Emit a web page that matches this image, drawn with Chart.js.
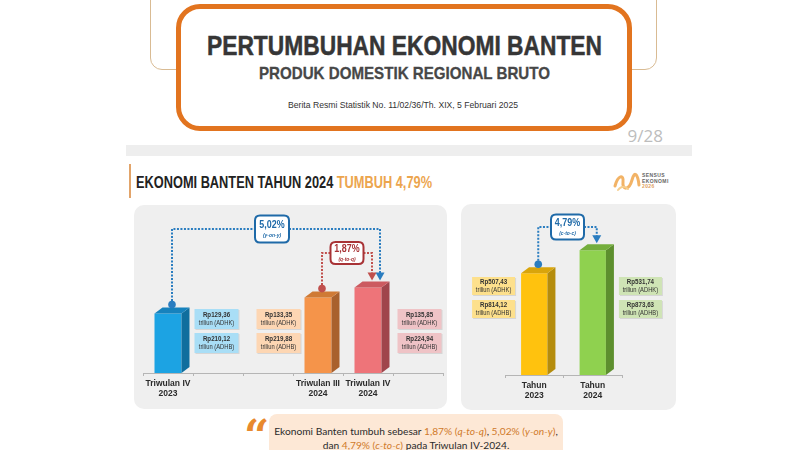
<!DOCTYPE html>
<html><head><meta charset="utf-8">
<script src="https://cdn.jsdelivr.net/npm/chart.js@4.4.1/dist/chart.umd.min.js"></script>
<style>
html,body{margin:0;padding:0;width:800px;height:450px;overflow:hidden;background:#fff;}
.a{position:absolute;white-space:nowrap;}
.ls{font-family:'Liberation Sans',Arial,sans-serif;}
</style></head><body>
<!-- top cover -->
<div class="a" style="left:150px;top:-20px;width:505px;height:88px;border:1px solid #d9bb93;border-radius:12px;"></div>
<div class="a" style="left:176px;top:4px;width:446px;height:117px;border:5px solid #e2741f;border-radius:24px;background:#fff;"></div>
<div class="a ls" data-w="395" style="left:207px;top:31px;line-height:30px;font-size:27px;font-weight:bold;color:#363636;-webkit-text-stroke:0.5px #363636;">PERTUMBUHAN EKONOMI BANTEN</div>
<div class="a ls" data-w="291" style="left:259px;top:64px;line-height:20px;font-size:17px;font-weight:bold;color:#474747;-webkit-text-stroke:0.3px #474747;">PRODUK DOMESTIK REGIONAL BRUTO</div>
<div class="a ls" data-w="230" style="left:288px;top:99px;line-height:12px;font-size:9px;color:#333;">Berita Resmi Statistik No. 11/02/36/Th. XIX, 5 Februari 2025</div>
<div class="a" style="left:600px;width:63px;top:126px;line-height:20px;text-align:right;font-family:'Open Sans',sans-serif;font-size:17px;color:#bdbdbd;">9/28</div>
<div class="a" style="left:126px;top:145px;width:566px;height:11px;background:#eeeeee;"></div>
<!-- section header -->
<div class="a" style="left:129px;top:164px;width:2px;height:34px;background:#e2a46a;"></div>
<div class="a ls" data-w="296" style="left:136px;top:173px;line-height:20px;font-size:16px;font-weight:bold;color:#222;">EKONOMI BANTEN TAHUN 2024 <span style="color:#eca54e;">TUMBUH 4,79%</span></div>
<svg class="a" style="left:613px;top:171px;" width="28" height="22" viewBox="0 0 28 22">
<path d="M2 15 C5 4,11 3,10 11 S16 20,19 9 S25 5,26 14" fill="none" stroke="#f2b366" stroke-width="3" stroke-linecap="round"/>
<path d="M5 19 C9 14,13 16,15 18" fill="none" stroke="#f6cf8f" stroke-width="2" stroke-linecap="round"/>
</svg>
<div class="a" style="left:642px;top:173px;font-family:'Liberation Sans',sans-serif;font-size:5px;line-height:5.5px;font-weight:bold;color:#666;letter-spacing:0.4px;">SENSUS<br>EKONOMI<br><span style="color:#e0a060;">2026</span></div>
<!-- panels -->
<div class="a" style="left:134px;top:205px;width:313px;height:204px;background:#efefef;border-radius:10px;"></div>
<div class="a" style="left:461px;top:204px;width:215px;height:206px;background:#efefef;border-radius:10px;"></div>
<div class="a" style="left:134px;top:204px;"><canvas id="cq" width="313" height="205"></canvas></div>
<div class="a" style="left:461px;top:204px;"><canvas id="cy" width="215" height="205"></canvas></div>
<!-- quote -->
<div class="a" style="left:269px;top:414px;width:294px;height:50px;background:#fde8d6;border-radius:8px;"></div>
<div class="a" style="left:244px;top:415px;font-family:'DejaVu Serif',serif;font-weight:bold;font-size:44px;line-height:44px;color:#e8892e;">“</div>
<div class="a" style="left:269px;width:294px;top:424px;text-align:center;font-family:Lato,sans-serif;font-size:10.2px;line-height:14px;color:#2b2b2b;">Ekonomi Banten tumbuh sebesar <span style="color:#d07a2a;">1,87% (<i>q-to-q</i>)</span>, <span style="color:#d07a2a;">5,02% (<i>y-on-y</i>)</span>,<br>dan <span style="color:#d07a2a;">4,79% (<i>c-to-c</i>)</span> pada Triwulan IV-2024.</div>
<script>
// ---------- data ----------
const quarterLabels = [['Triwulan IV','2023'], '', '', ['Triwulan III','2024'], ['Triwulan IV','2024'], ''];
const quarterADHK = [129.36, null, null, 133.35, 135.85, null];
const quarterADHB = [210.12, null, null, 219.88, 224.94, null];
const yearLabels = [['Tahun','2023'], ['Tahun','2024']];
const yearADHK = [507.43, 531.74];
const yearADHB = [814.12, 873.63];
const growthQtoQ = 1.87;
const growthYonY = 5.02;
const growthCtoC = 4.79;

// ---------- fit narrow html text ----------
document.querySelectorAll('[data-w]').forEach(el => {
  const w = el.getBoundingClientRect().width;
  el.style.transformOrigin = 'left center';
  el.style.transform = `scaleX(${(+el.dataset.w / w).toFixed(4)})`;
});

// ---------- styling ----------
const SANS = "'Liberation Sans',Arial,sans-serif";
const DEPTH = 8, RISE = 6;
const fmt = v => v.toFixed(2).replace('.', ',');

function rrect(ctx, x, y, w, h, r) {
  ctx.beginPath();
  ctx.moveTo(x + r, y); ctx.lineTo(x + w - r, y); ctx.quadraticCurveTo(x + w, y, x + w, y + r);
  ctx.lineTo(x + w, y + h - r); ctx.quadraticCurveTo(x + w, y + h, x + w - r, y + h);
  ctx.lineTo(x + r, y + h); ctx.quadraticCurveTo(x, y + h, x, y + h - r);
  ctx.lineTo(x, y + r); ctx.quadraticCurveTo(x, y, x + r, y); ctx.closePath();
}
function ntext(ctx, str, x, y, font, sx) {
  ctx.save(); ctx.font = font; ctx.textAlign = 'center'; ctx.textBaseline = 'middle';
  ctx.translate(x, y); ctx.scale(sx, 1); ctx.fillText(str, 0, 0); ctx.restore();
}

const bar3d = {
  id: 'bar3d',
  afterDatasetsDraw(chart, args, o) {
    const ctx = chart.ctx;
    const meta = chart.getDatasetMeta(0);
    const ds = chart.data.datasets[0];
    const base = chart.chartArea.bottom;
    meta.data.forEach((el, i) => {
      if (ds.data[i] == null) return;
      const {x, y, width} = el.getProps(['x', 'y', 'width'], true);
      const l = x - width / 2, r = x + width / 2;
      ctx.save();
      ctx.fillStyle = o.side[i];
      ctx.beginPath(); ctx.moveTo(r, y); ctx.lineTo(r + DEPTH, y - RISE); ctx.lineTo(r + DEPTH, base - RISE); ctx.lineTo(r, base); ctx.closePath(); ctx.fill();
      ctx.fillStyle = o.top[i];
      ctx.beginPath(); ctx.moveTo(l, y); ctx.lineTo(l + DEPTH, y - RISE); ctx.lineTo(r + DEPTH, y - RISE); ctx.lineTo(r, y); ctx.closePath(); ctx.fill();
      ctx.restore();
    });
  }
};

const valueBoxes = {
  id: 'valueBoxes',
  afterDatasetsDraw(chart, args, o) {
    const ctx = chart.ctx;
    const meta = chart.getDatasetMeta(0);
    const ds = chart.data.datasets[0];
    meta.data.forEach((el, i) => {
      if (ds.data[i] == null) return;
      const {x, width} = el.getProps(['x', 'width'], true);
      const l = x - width / 2, r = x + width / 2;
      const bx = o.side[i] === 'right' ? r + DEPTH + o.gap[i] : l - o.gap[i] - o.w;
      const rows = [[ 'Rp' + fmt(ds.data[i]), 'triliun (ADHK)' ], [ 'Rp' + fmt(o.adhb[i]), 'triliun (ADHB)' ]];
      rows.forEach((t, k) => {
        const by = o.top + k * (o.h + o.gapY);
        ctx.save();
        ctx.fillStyle = 'rgba(0,0,0,0.10)';
        ctx.fillRect(bx + 1, by + 1, o.w, o.h);
        ctx.fillStyle = o.color[i];
        ctx.fillRect(bx, by, o.w, o.h);
        ctx.fillStyle = '#333';
        ntext(ctx, t[0], bx + o.w / 2, by + o.h / 2 - 4, `bold 7.3px ${SANS}`, 0.85);
        ntext(ctx, t[1], bx + o.w / 2, by + o.h / 2 + 4.5, `6.6px ${SANS}`, 0.88);
        ctx.restore();
      });
    });
  }
};

const callouts = {
  id: 'callouts',
  afterDatasetsDraw(chart, args, o) {
    const ctx = chart.ctx;
    const meta = chart.getDatasetMeta(0);
    o.items.forEach(c => {
      const a = meta.data[c.from].getProps(['x', 'y'], true);
      const b = meta.data[c.to].getProps(['x', 'y'], true);
      const ax = a.x + DEPTH / 2, bxTop = b.x + DEPTH / 2 + c.shift;
      const dotY = a.y - RISE / 2 - 6;
      const cx = (ax + b.x + DEPTH / 2) / 2;
      const lev = c.level;
      ctx.save();
      ctx.strokeStyle = c.line; ctx.lineWidth = 2; ctx.setLineDash([2, 1.5]);
      ctx.beginPath();
      ctx.moveTo(ax, dotY); ctx.lineTo(ax, lev); ctx.lineTo(cx - c.w / 2, lev);
      ctx.moveTo(cx + c.w / 2, lev); ctx.lineTo(bxTop, lev); ctx.lineTo(bxTop, b.y - RISE - 8);
      ctx.stroke();
      ctx.setLineDash([]);
      ctx.fillStyle = c.line;
      ctx.beginPath(); ctx.arc(ax, dotY, 3.8, 0, Math.PI * 2); ctx.fill();
      const tip = b.y - RISE - 1;
      ctx.beginPath(); ctx.moveTo(bxTop, tip); ctx.lineTo(bxTop - 4.5, tip - 8); ctx.lineTo(bxTop + 4.5, tip - 8); ctx.closePath(); ctx.fill();
      rrect(ctx, cx - c.w / 2, lev - c.h / 2, c.w, c.h, 5);
      ctx.fillStyle = '#fff'; ctx.fill();
      ctx.lineWidth = 2; ctx.strokeStyle = c.border; ctx.stroke();
      ctx.fillStyle = c.text;
      ntext(ctx, c.label, cx, lev - 4, `bold 10.5px ${SANS}`, 0.85);
      ntext(ctx, c.sub, cx, lev + 6, `italic bold 5.8px ${SANS}`, 0.85);
      ctx.restore();
    });
  }
};

function makeChart(id, labels, values, cfg) {
  return new Chart(document.getElementById(id), {
    type: 'bar',
    data: { labels, datasets: [{ data: values, backgroundColor: cfg.front, borderWidth: 0,
      barPercentage: cfg.barPct, categoryPercentage: 1 }] },
    options: {
      responsive: false, animation: false, devicePixelRatio: 1,
      layout: { padding: cfg.padding },
      plugins: { legend: { display: false }, tooltip: { enabled: false },
        bar3d: cfg.bar3d, valueBoxes: cfg.valueBoxes, callouts: cfg.callouts },
      scales: {
        x: {
          offset: true,
          grid: { display: true, drawOnChartArea: false, drawTicks: true, tickLength: 3, color: '#b5b5b5', offset: true },
          border: { display: true, color: '#b5b5b5', width: 1 },
          ticks: { color: '#2b2b2b', font: { family: SANS, size: 8.5, weight: 'bold', lineHeight: 1.15 }, padding: 3, maxRotation: 0, autoSkip: false },
          afterFit: s => { s.height = cfg.axisH; }
        },
        y: { display: false, min: cfg.min, max: cfg.max }
      }
    },
    plugins: [bar3d, valueBoxes, callouts]
  });
}

makeChart('cq', quarterLabels, quarterADHK, {
  front: ['#1ca3e3', null, null, '#f5944a', '#ee7479', null],
  barPct: 0.54, padding: { left: 9, right: 4, top: 9, bottom: 0 }, axisH: 36,
  min: 114.5, max: 154.5,
  bar3d: { side: ['#0f6e9e', null, null, '#a9612d', '#a0454c', null], top: ['#1682bd', null, null, '#cf7a35', '#cc5a60', null] },
  valueBoxes: { adhb: quarterADHB, side: ['right', null, null, 'left', 'right', null], gap: [5, 0, 0, 4, 8, 0],
    color: ['#a9def6', null, null, '#fdd6b3', '#efc3c6', null], top: 105, w: 44, h: 20, gapY: 4 },
  callouts: { items: [
    { from: 0, to: 4, shift: 8, level: 25, w: 34, h: 27, label: fmt(growthYonY) + '%', sub: '(y-on-y)', line: '#2a7dc0', border: '#1f6aa8', text: '#1f6aa8' },
    { from: 3, to: 4, shift: 0, level: 49, w: 33, h: 22, label: fmt(growthQtoQ) + '%', sub: '(q-to-q)', line: '#c0504d', border: '#a83336', text: '#a83336' }
  ] }
});

makeChart('cy', yearLabels, yearADHK, {
  front: ['#ffc20e', '#8fd14f'],
  barPct: 0.45, padding: { left: 44, right: 54, top: 11, bottom: 0 }, axisH: 34,
  min: 400, max: 569,
  bar3d: { side: ['#b58c0c', '#5d8f2e'], top: ['#d9a50b', '#74ae3c'] },
  valueBoxes: { adhb: yearADHB, side: ['left', 'right'], gap: [6, 5], color: ['#fde08c', '#cfe4b5'], top: 73, w: 43, h: 18, gapY: 5 },
  callouts: { items: [
    { from: 0, to: 1, shift: 0, level: 23, w: 33, h: 25, label: fmt(growthCtoC) + '%', sub: '(c-to-c)', line: '#2a7dc0', border: '#1f6aa8', text: '#1f6aa8' }
  ] }
});
</script>
</body></html>
